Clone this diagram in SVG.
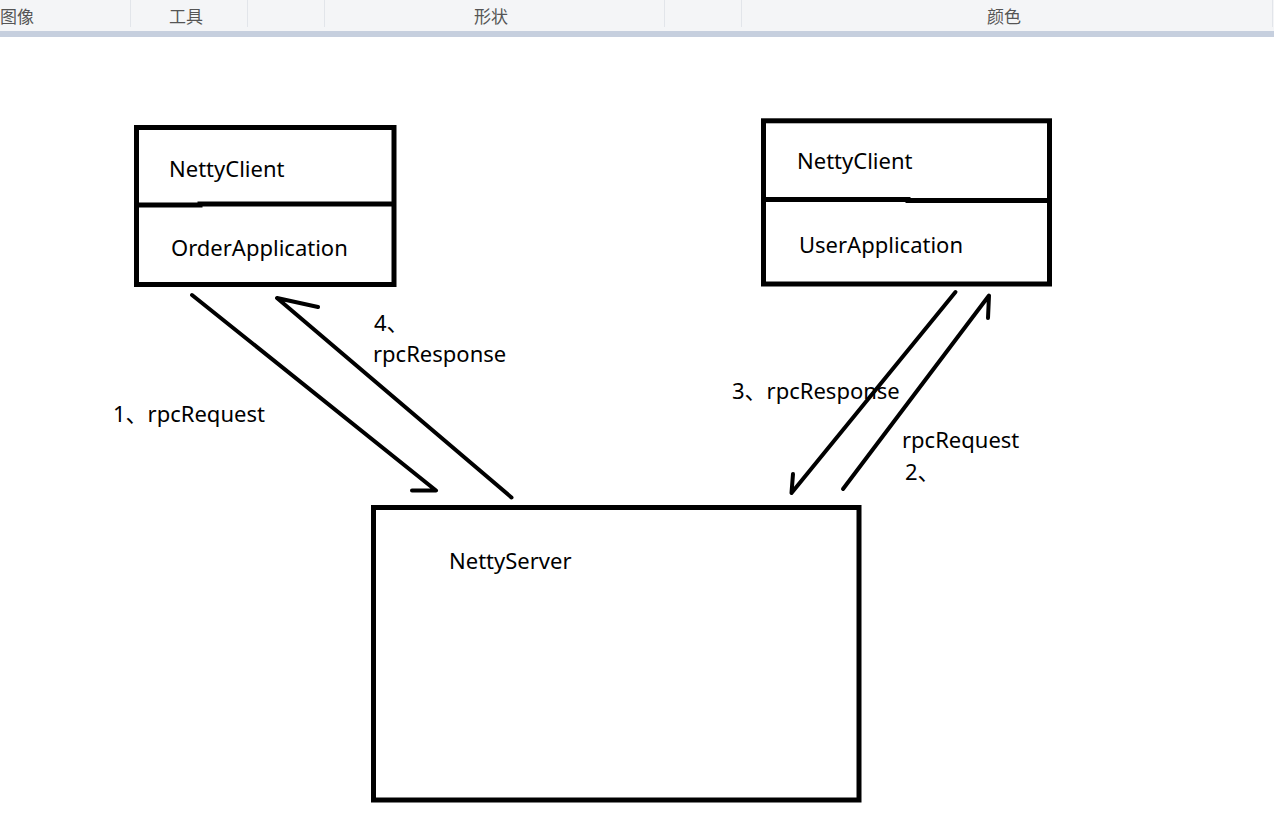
<svg xmlns="http://www.w3.org/2000/svg" width="1274" height="823" viewBox="0 0 1274 823">
<style>
.hdr{font-family:"Noto Sans CJK SC","Noto Sans",sans-serif;font-size:17px;fill:#555}
.sep{stroke:#e2e5ea;stroke-width:1}
.box{fill:none;stroke:#000;stroke-width:5}
.lbl{font-family:"Noto Sans","Noto Sans CJK SC",sans-serif;font-size:22px;fill:#000}
.ed{font-family:"Noto Sans","Noto Sans CJK SC",sans-serif;font-size:22px;fill:#000}
.ln{fill:none;stroke:#000;stroke-width:4;stroke-linecap:round;stroke-linejoin:round}
</style>
<rect x="0" y="0" width="1274" height="823" fill="#fff"/>
<g id="header">
<rect x="0" y="0" width="1274" height="31" fill="#f4f5f7"/>
<rect x="0" y="31" width="1274" height="6" fill="#c6cfde"/>
<line class="sep" x1="130.5" y1="0" x2="130.5" y2="27"/>
<line class="sep" x1="247.5" y1="0" x2="247.5" y2="27"/>
<line class="sep" x1="324.5" y1="0" x2="324.5" y2="27"/>
<line class="sep" x1="664.5" y1="0" x2="664.5" y2="27"/>
<line class="sep" x1="741.5" y1="0" x2="741.5" y2="27"/>
<line class="sep" x1="1272.5" y1="0" x2="1272.5" y2="27"/>
<text class="hdr" x="0" y="23">图像</text>
<text class="hdr" x="169" y="23">工具</text>
<text class="hdr" x="474" y="23">形状</text>
<text class="hdr" x="987" y="23">颜色</text>
</g>
<g id="order-node">
<rect class="box" x="136.5" y="127.5" width="257.5" height="157"/>
<polyline class="box" points="136.5,205 200,205 200,204 394,204" stroke-linecap="butt"/>
<text class="lbl" x="169" y="177">NettyClient</text>
<text class="lbl" x="171" y="256">OrderApplication</text>
</g>
<g id="user-node">
<rect class="box" x="763.5" y="120.8" width="286" height="163.2"/>
<polyline class="box" points="763.5,199.5 908,199.5 908,200.5 1052,200.5"/>
<text class="lbl" x="797" y="169">NettyClient</text>
<text class="lbl" x="799" y="253">UserApplication</text>
</g>
<g id="server-node">
<rect class="box" x="373.5" y="507.5" width="485.5" height="292.5"/>
<text class="lbl" x="449" y="569">NettyServer</text>
</g>
<g id="connectors">
<polyline class="ln" points="192,295 436,490.5 412,490.5"/>
<polyline class="ln" points="511.5,497.5 277,298 318,307"/>
<polyline class="ln" points="955.5,292 791.5,493 793,474"/>
<polyline class="ln" points="843,489 989,295.5 988,318"/>
<text class="ed" x="113" y="422">1、rpcRequest</text>
<text class="ed" x="374" y="331">4、</text>
<text class="ed" x="373" y="362">rpcResponse</text>
<text class="ed" x="732" y="399">3、rpcResponse</text>
<text class="ed" x="902" y="448">rpcRequest</text>
<text class="ed" x="905" y="480">2、</text>
</g>
</svg>
